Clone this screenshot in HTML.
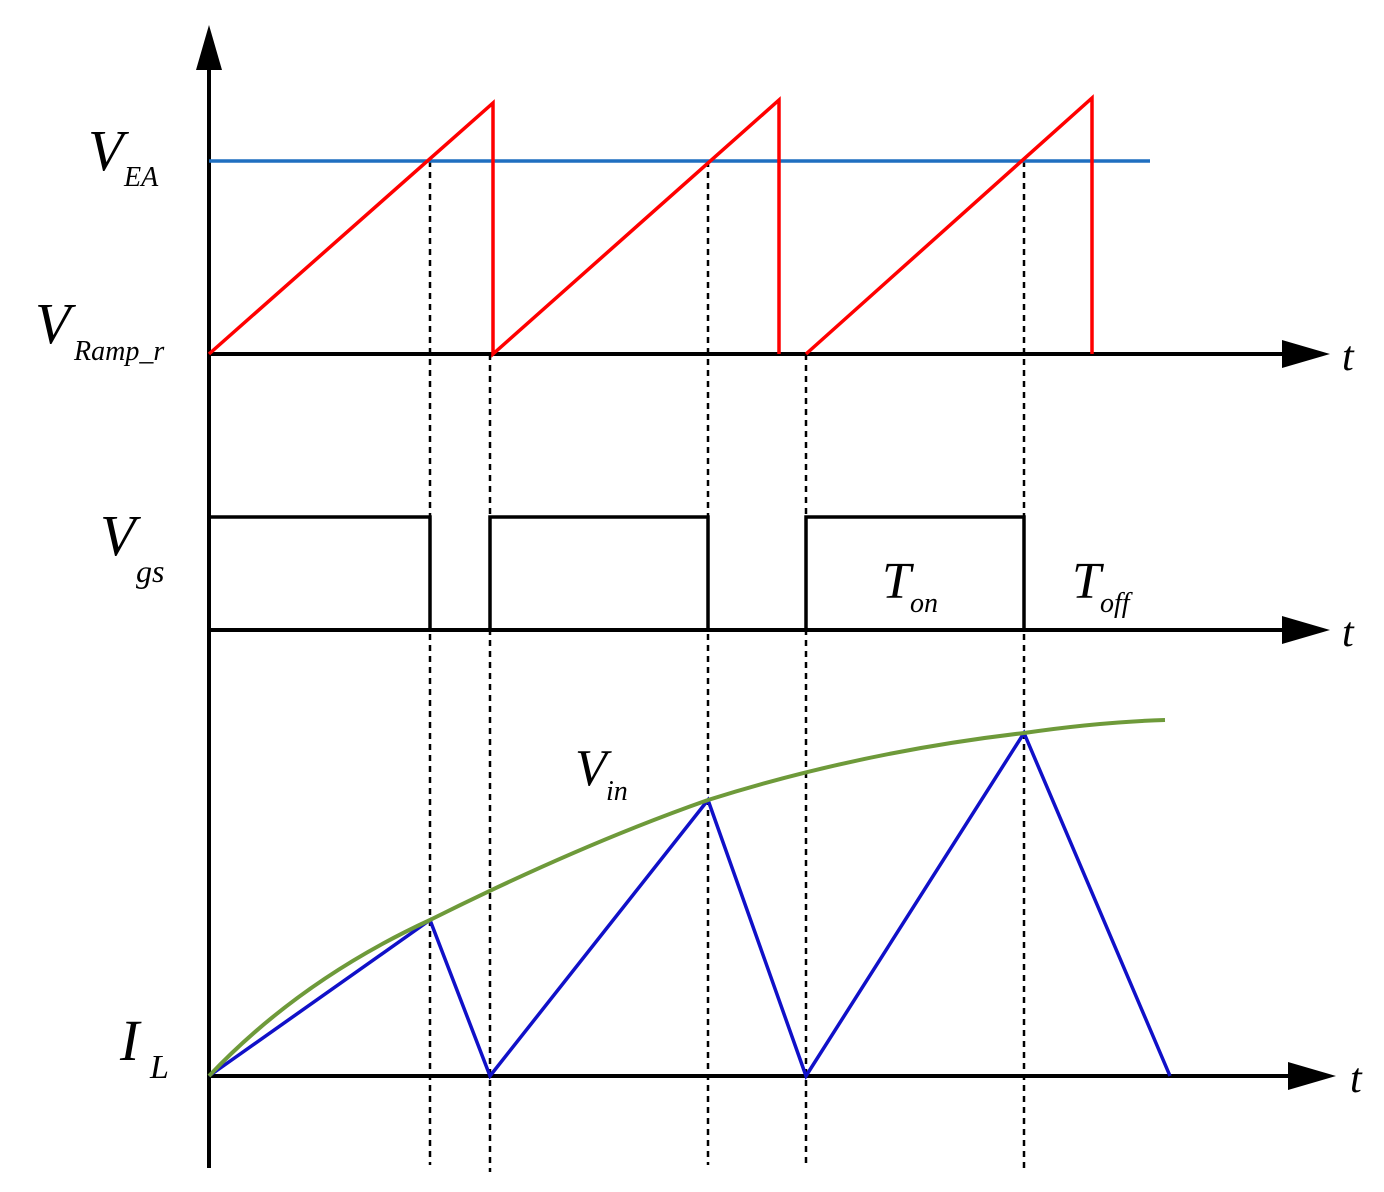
<!DOCTYPE html>
<html><head><meta charset="utf-8"><style>body{margin:0;background:#fff}svg{display:block}text{font-family:"Liberation Serif",serif;font-style:italic;fill:#000}</style></head><body>
<svg width="1384" height="1192" viewBox="0 0 1384 1192" xmlns="http://www.w3.org/2000/svg">
<g stroke="#000" stroke-width="4" fill="none">
<line x1="209" y1="60" x2="209" y2="1168"/>
<line x1="209" y1="354" x2="1290" y2="354"/>
<line x1="209" y1="630" x2="1290" y2="630"/>
<line x1="209" y1="1076" x2="1295" y2="1076"/>
</g>
<polygon points="209,25 196,70 222,70" fill="#000"/>
<polygon points="1330,354 1282,340 1282,368" fill="#000"/>
<polygon points="1330,630 1282,616 1282,644" fill="#000"/>
<polygon points="1336,1076 1288,1062 1288,1090" fill="#000"/>
<g stroke="#000" stroke-width="2.5" stroke-dasharray="6,5">
<line x1="430" y1="161" x2="430" y2="1165"/>
<line x1="490" y1="354" x2="490" y2="1172"/>
<line x1="708" y1="161" x2="708" y2="1165"/>
<line x1="806" y1="354" x2="806" y2="1168"/>
<line x1="1024" y1="161" x2="1024" y2="1172"/>
</g>
<line x1="209" y1="161" x2="1150" y2="161" stroke="#1f6fc0" stroke-width="3.5"/>
<polyline points="209,354 493,103 493,354 493,354 779,100 779,354" fill="none" stroke="#f00" stroke-width="3.5"/>
<polyline points="806,354 1092,98 1092,354" fill="none" stroke="#f00" stroke-width="3.5"/>
<polyline points="209,517 430,517 430,630 490,630 490,517 708,517 708,630 806,630 806,517 1024,517 1024,630" fill="none" stroke="#000" stroke-width="3.5"/>
<polyline points="209,1076 430,920 490,1076 708,800 806,1076 1024,733 1170,1076" fill="none" stroke="#1010c8" stroke-width="3.5"/>
<path d="M209,1076 Q300,980 430,920 Q580,845 708,800 Q860,752 1024,733 Q1100,722 1165,720" fill="none" stroke="#6e9a3a" stroke-width="4"/>
<text x="88" y="170" font-size="58">V</text><text x="124" y="186" font-size="28">EA</text>
<text x="35" y="343" font-size="58">V</text><text x="74" y="360" font-size="28">Ramp_r</text>
<text x="100" y="555" font-size="58">V</text><text x="136" y="582" font-size="32">gs</text>
<text x="882" y="598" font-size="52">T</text><text x="910" y="612" font-size="28">on</text>
<text x="1072" y="598" font-size="52">T</text><text x="1100" y="612" font-size="28">off</text>
<text x="575" y="785" font-size="52">V</text><text x="606" y="800" font-size="28">in</text>
<text x="120" y="1060" font-size="58">I</text><text x="150" y="1078" font-size="34">L</text>
<text x="1342" y="370" font-size="42">t</text>
<text x="1342" y="646" font-size="42">t</text>
<text x="1350" y="1092" font-size="42">t</text>
</svg>
</body></html>
